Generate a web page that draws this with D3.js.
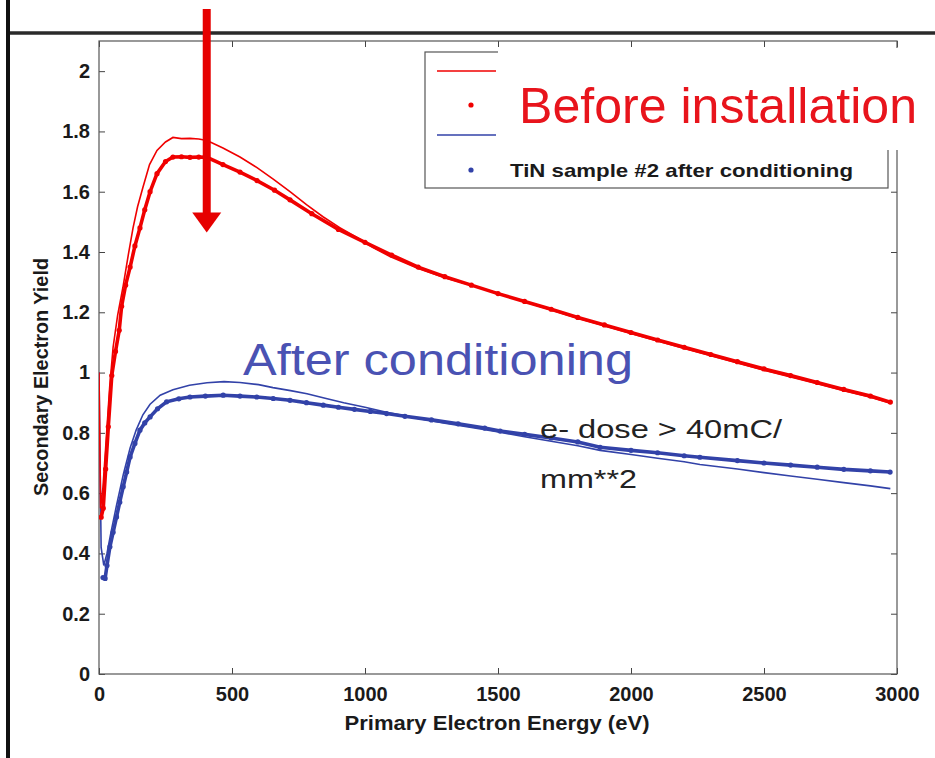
<!DOCTYPE html>
<html>
  <head>
    <title>Secondary electron yield - TiN sample #2</title>
    <script src="https://d3js.org/d3.v7.min.js"></script>
    <style>
      body { margin: 0; background: #fff; }
      svg { display: block; font-family: "Liberation Sans", Arial, sans-serif; }
    </style>
  </head>
  <body>
    <script>
      var width = 935;
      var height = 758;
      var margin = {top: 41, left: 99, right: 38, bottom: 84};

      // curves: energy (eV) and yield
      var beforeLineE = [0, 6, 15, 25, 40, 53, 70, 90, 110, 128, 145, 165, 190, 218, 250, 278, 310, 342, 375, 406, 466, 530, 594, 655, 718, 780, 842, 905, 970, 1030, 1094, 1200, 1300, 1400, 1500, 1600, 1700, 1800, 1900, 2000, 2100, 2200, 2300, 2400, 2500, 2600, 2700, 2800, 2900, 2975];
      var beforeLineY = [1.0, 0.55, 0.62, 0.75, 0.95, 1.084, 1.19, 1.283, 1.39, 1.48, 1.55, 1.614, 1.69, 1.737, 1.765, 1.78, 1.776, 1.777, 1.775, 1.77, 1.745, 1.715, 1.68, 1.642, 1.6, 1.557, 1.517, 1.481, 1.448, 1.415, 1.385, 1.345, 1.315, 1.29, 1.263, 1.235, 1.208, 1.18, 1.155, 1.13, 1.105, 1.08, 1.056, 1.032, 1.008, 0.985, 0.963, 0.94, 0.918, 0.898];

      var beforeDotsE = [8, 16, 25, 35, 48, 62, 76, 85, 100, 117, 135, 154, 172, 192, 218, 250, 278, 310, 342, 375, 406, 466, 530, 594, 660, 718, 800, 900, 1000, 1100, 1200, 1300, 1400, 1500, 1600, 1700, 1800, 1900, 2000, 2100, 2200, 2300, 2400, 2500, 2600, 2700, 2800, 2900, 2975];
      var beforeDotsY = [0.52, 0.55, 0.68, 0.82, 0.99, 1.07, 1.14, 1.22, 1.29, 1.35, 1.42, 1.48, 1.54, 1.60, 1.66, 1.70, 1.715, 1.716, 1.714, 1.715, 1.714, 1.69, 1.665, 1.637, 1.605, 1.573, 1.527, 1.475, 1.432, 1.39, 1.35, 1.318, 1.29, 1.262, 1.236, 1.21, 1.183, 1.158, 1.133, 1.108, 1.084, 1.06, 1.036, 1.012, 0.99, 0.967, 0.944, 0.922, 0.902];

      var afterLineE = [0, 8, 18, 30, 45, 66, 91, 117, 140, 165, 192, 230, 278, 340, 406, 470, 530, 600, 654, 720, 782, 850, 920, 1000, 1081, 1200, 1300, 1400, 1508, 1600, 1700, 1800, 1884, 2000, 2100, 2200, 2259, 2400, 2500, 2600, 2700, 2800, 2900, 2975];
      var afterLineY = [1.0, 0.42, 0.36, 0.40, 0.47, 0.56, 0.66, 0.75, 0.81, 0.86, 0.895, 0.925, 0.943, 0.958, 0.966, 0.97, 0.967, 0.96, 0.95, 0.94, 0.93, 0.915, 0.90, 0.885, 0.868, 0.848, 0.832, 0.818, 0.802, 0.787, 0.772, 0.757, 0.742, 0.728, 0.716, 0.704, 0.695, 0.68, 0.668, 0.657, 0.646, 0.635, 0.624, 0.615];

      var afterDotsE = [15, 23, 30, 41, 53, 66, 78, 91, 104, 117, 135, 154, 172, 192, 220, 254, 300, 342, 400, 467, 530, 593, 655, 718, 780, 843, 900, 960, 1020, 1081, 1150, 1250, 1350, 1450, 1508, 1600, 1700, 1800, 1884, 2000, 2100, 2200, 2259, 2400, 2500, 2600, 2700, 2800, 2900, 2974];
      var afterDotsY = [0.32, 0.317, 0.36, 0.422, 0.47, 0.521, 0.57, 0.621, 0.67, 0.72, 0.765, 0.809, 0.833, 0.853, 0.88, 0.903, 0.913, 0.919, 0.922, 0.925, 0.922, 0.919, 0.914, 0.908, 0.90, 0.892, 0.885, 0.878, 0.871, 0.864, 0.855, 0.843, 0.83, 0.816, 0.806, 0.795, 0.783, 0.77, 0.752, 0.742, 0.734, 0.724, 0.719, 0.708, 0.70, 0.693, 0.686, 0.679, 0.674, 0.67];

      var xTicks = [0, 500, 1000, 1500, 2000, 2500, 3000];
      var yTicks = [0, 0.2, 0.4, 0.6, 0.8, 1, 1.2, 1.4, 1.6, 1.8, 2];

      var red = "#f00000";
      var blue = "#3242a8";

      var svg = d3.select("body")
        .append("svg")
        .attr("width", width)
        .attr("height", height);

      var xScale = d3.scaleLinear()
        .domain([0, 3000])
        .range([margin.left, width - margin.right]);

      var yScale = d3.scaleLinear()
        .domain([0, 2.1])
        .range([height - margin.bottom, margin.top]);

      svg.append("clipPath")
        .attr("id", "plotClip")
        .append("rect")
        .attr("x", margin.left)
        .attr("y", margin.top)
        .attr("width", width - margin.left - margin.right)
        .attr("height", height - margin.top - margin.bottom);

      // axes, matlab style: ticks inside on all four sides
      function styleAxis(g) {
        g.select(".domain").remove();
        g.selectAll(".tick line").attr("stroke", "#444");
        g.selectAll(".tick text")
          .attr("fill", "#1a1a1a")
          .style("font-size", "20px")
          .style("font-weight", "bold");
      }

      svg.append("g")
        .attr("transform", `translate(0,${height - margin.bottom})`)
        .call(d3.axisBottom(xScale).tickValues(xTicks).tickSize(-6).tickPadding(13).tickFormat(d3.format("d")))
        .call(styleAxis);

      svg.append("g")
        .attr("transform", `translate(0,${margin.top})`)
        .call(d3.axisTop(xScale).tickValues(xTicks).tickSize(-6).tickFormat(""))
        .call(styleAxis);

      svg.append("g")
        .attr("transform", `translate(${margin.left},0)`)
        .call(d3.axisLeft(yScale).tickValues(yTicks).tickSize(-6).tickPadding(9).tickFormat(function(d) { return String(d); }))
        .call(styleAxis);

      svg.append("g")
        .attr("transform", `translate(${width - margin.right},0)`)
        .call(d3.axisRight(yScale).tickValues(yTicks).tickSize(-6).tickFormat(""))
        .call(styleAxis);

      svg.append("rect")
        .attr("x", margin.left)
        .attr("y", margin.top)
        .attr("width", width - margin.left - margin.right)
        .attr("height", height - margin.top - margin.bottom)
        .attr("fill", "none")
        .attr("stroke", "#555")
        .attr("stroke-width", 1.2);

      svg.append("text")
        .attr("x", 497)
        .attr("y", 730)
        .attr("text-anchor", "middle")
        .attr("textLength", 305)
        .attr("lengthAdjust", "spacingAndGlyphs")
        .attr("fill", "#1a1a1a")
        .style("font-size", "20px")
        .style("font-weight", "bold")
        .text("Primary Electron Energy (eV)");

      svg.append("text")
        .attr("transform", "translate(48,377) rotate(-90)")
        .attr("text-anchor", "middle")
        .attr("textLength", 238)
        .attr("lengthAdjust", "spacingAndGlyphs")
        .attr("fill", "#1a1a1a")
        .style("font-size", "20px")
        .style("font-weight", "bold")
        .text("Secondary Electron Yield");

      // curves
      var line = d3.line()
        .x(function(d) { return xScale(d[0]); })
        .y(function(d) { return yScale(d[1]); });

      var plot = svg.append("g").attr("clip-path", "url(#plotClip)");

      function drawDots(E, Y, color) {
        var pts = d3.zip(E, Y);
        plot.append("path")
          .datum(pts)
          .attr("d", line)
          .attr("fill", "none")
          .attr("stroke", color)
          .attr("stroke-width", 3.6);
        plot.selectAll(null)
          .data(pts)
          .enter()
          .append("circle")
          .attr("cx", function(d) { return xScale(d[0]); })
          .attr("cy", function(d) { return yScale(d[1]); })
          .attr("r", 2.6)
          .attr("fill", color);
      }

      function drawLine(E, Y, color) {
        plot.append("path")
          .datum(d3.zip(E, Y))
          .attr("d", line)
          .attr("fill", "none")
          .attr("stroke", color)
          .attr("stroke-width", 1.6);
      }

      drawDots(afterDotsE, afterDotsY, blue);
      drawLine(afterLineE, afterLineY, blue);
      drawDots(beforeDotsE, beforeDotsY, red);
      drawLine(beforeLineE, beforeLineY, red);

      // annotations
      svg.append("text")
        .attr("x", 243)
        .attr("y", 375)
        .attr("textLength", 390)
        .attr("lengthAdjust", "spacingAndGlyphs")
        .attr("fill", "#4a52b3")
        .style("font-size", "45px")
        .text("After conditioning");

      svg.append("text")
        .attr("x", 540)
        .attr("y", 438)
        .attr("textLength", 242)
        .attr("lengthAdjust", "spacingAndGlyphs")
        .attr("fill", "#222")
        .style("font-size", "25px")
        .text("e- dose > 40mC/");

      svg.append("text")
        .attr("x", 540)
        .attr("y", 488)
        .attr("textLength", 97)
        .attr("lengthAdjust", "spacingAndGlyphs")
        .attr("fill", "#222")
        .style("font-size", "25px")
        .text("mm**2");

      // legend
      var legend = svg.append("g");
      legend.append("rect")
        .attr("x", 425)
        .attr("y", 52)
        .attr("width", 463)
        .attr("height", 136)
        .attr("fill", "#fff")
        .attr("stroke", "#555")
        .attr("stroke-width", 1.2);
      legend.append("line")
        .attr("x1", 437).attr("x2", 496)
        .attr("y1", 71).attr("y2", 71)
        .attr("stroke", red).attr("stroke-width", 1.6);
      legend.append("circle")
        .attr("cx", 471).attr("cy", 105).attr("r", 2.6)
        .attr("fill", red);
      legend.append("line")
        .attr("x1", 437).attr("x2", 496)
        .attr("y1", 135).attr("y2", 135)
        .attr("stroke", blue).attr("stroke-width", 1.6);
      legend.append("circle")
        .attr("cx", 471).attr("cy", 170).attr("r", 2.6)
        .attr("fill", blue);
      legend.append("text")
        .attr("x", 510)
        .attr("y", 177)
        .attr("textLength", 343)
        .attr("lengthAdjust", "spacingAndGlyphs")
        .attr("fill", "#1a1a1a")
        .style("font-size", "19px")
        .style("font-weight", "bold")
        .text("TiN sample #2 after conditioning");

      // pasted-over label with its white patch
      svg.append("rect")
        .attr("x", 498)
        .attr("y", 48)
        .attr("width", width - 498)
        .attr("height", 102)
        .attr("fill", "#fff");
      svg.append("text")
        .attr("x", 519)
        .attr("y", 123)
        .attr("textLength", 398)
        .attr("lengthAdjust", "spacingAndGlyphs")
        .attr("fill", "#e8141c")
        .style("font-size", "50px")
        .text("Before installation");

      // slide frame lines
      svg.append("line")
        .attr("x1", 8).attr("x2", width)
        .attr("y1", 33).attr("y2", 33)
        .attr("stroke", "#2a2a2a").attr("stroke-width", 3.5);
      svg.append("line")
        .attr("x1", 8).attr("x2", 8)
        .attr("y1", 0).attr("y2", height)
        .attr("stroke", "#111").attr("stroke-width", 4);

      // red arrow pointing down at the peak
      var arrowX = xScale(405);
      var arrowTip = yScale(1.465);
      svg.append("rect")
        .attr("x", arrowX - 4)
        .attr("y", 9)
        .attr("width", 8)
        .attr("height", arrowTip - 9 - 18)
        .attr("fill", "#e60000");
      svg.append("path")
        .attr("d", `M${arrowX - 14.5},${arrowTip - 20} L${arrowX + 14.5},${arrowTip - 20} L${arrowX},${arrowTip} Z`)
        .attr("fill", "#e60000");
    </script>
  </body>
</html>
